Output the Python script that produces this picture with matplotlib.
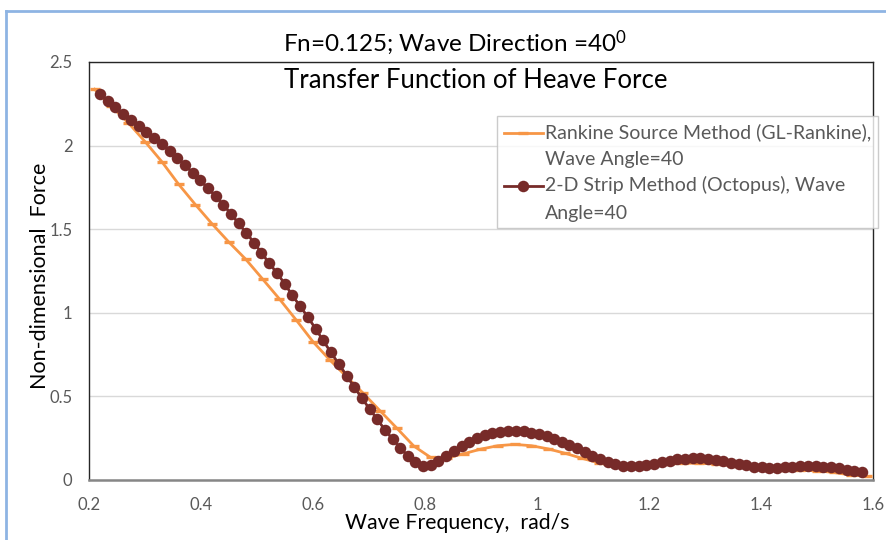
import matplotlib
matplotlib.use("Agg")
import matplotlib.pyplot as plt
from matplotlib.lines import Line2D
from matplotlib.legend_handler import HandlerLine2D

# ---------------- data ----------------
freq_rankine = [0.21, 0.24, 0.27, 0.30, 0.33, 0.36, 0.39, 0.42, 0.45, 0.48,
                0.51, 0.54, 0.57, 0.60, 0.63, 0.66, 0.69, 0.72, 0.75, 0.78,
                0.81, 0.84, 0.87, 0.90, 0.93, 0.96, 0.99, 1.02, 1.05, 1.08,
                1.11, 1.14, 1.17, 1.20, 1.23, 1.26, 1.29, 1.32, 1.35, 1.38,
                1.41, 1.44, 1.47, 1.50, 1.53, 1.56, 1.59]
force_rankine = [2.337, 2.235, 2.137, 2.024, 1.904, 1.769, 1.647, 1.531, 1.422, 1.320,
                 1.202, 1.083, 0.957, 0.827, 0.718, 0.618, 0.518, 0.413, 0.309, 0.203,
                 0.135, 0.132, 0.158, 0.185, 0.205, 0.213, 0.205, 0.186, 0.160, 0.130,
                 0.103, 0.085, 0.080, 0.085, 0.093, 0.100, 0.100, 0.095, 0.085, 0.072,
                 0.062, 0.058, 0.058, 0.055, 0.045, 0.030, 0.022]

freq_octopus = [0.220, 0.234, 0.247, 0.261, 0.275, 0.289, 0.302, 0.316, 0.330, 0.344,
                0.357, 0.371, 0.385, 0.399, 0.412, 0.426, 0.440, 0.454, 0.467, 0.481,
                0.495, 0.508, 0.522, 0.536, 0.550, 0.563, 0.577, 0.591, 0.605, 0.618,
                0.632, 0.646, 0.660, 0.673, 0.687, 0.701, 0.715, 0.728, 0.742, 0.756,
                0.769, 0.783, 0.797, 0.811, 0.824, 0.838, 0.852, 0.866, 0.879, 0.893,
                0.907, 0.920, 0.934, 0.948, 0.962, 0.976, 0.989, 1.003, 1.017, 1.030,
                1.044, 1.058, 1.072, 1.085, 1.099, 1.113, 1.127, 1.140, 1.154, 1.168,
                1.182, 1.195, 1.209, 1.223, 1.237, 1.250, 1.264, 1.278, 1.291, 1.305,
                1.319, 1.333, 1.346, 1.360, 1.374, 1.388, 1.401, 1.415, 1.429, 1.443,
                1.456, 1.470, 1.484, 1.498, 1.511, 1.525, 1.539, 1.553, 1.566, 1.580]
force_octopus = [2.309, 2.269, 2.229, 2.189, 2.151, 2.115, 2.080, 2.045, 2.008, 1.968,
                 1.928, 1.884, 1.838, 1.793, 1.745, 1.698, 1.645, 1.590, 1.535, 1.477,
                 1.418, 1.358, 1.296, 1.236, 1.172, 1.104, 1.040, 0.973, 0.903, 0.835,
                 0.763, 0.694, 0.625, 0.558, 0.491, 0.425, 0.362, 0.302, 0.245, 0.192,
                 0.145, 0.107, 0.084, 0.088, 0.112, 0.142, 0.172, 0.202, 0.230, 0.252,
                 0.270, 0.282, 0.290, 0.294, 0.295, 0.291, 0.284, 0.274, 0.261, 0.246,
                 0.229, 0.210, 0.190, 0.168, 0.146, 0.126, 0.108, 0.094, 0.085, 0.082,
                 0.084, 0.090, 0.098, 0.107, 0.116, 0.123, 0.128, 0.131, 0.130, 0.127,
                 0.121, 0.113, 0.104, 0.095, 0.087, 0.080, 0.076, 0.074, 0.074, 0.076,
                 0.079, 0.082, 0.083, 0.083, 0.080, 0.075, 0.069, 0.062, 0.054, 0.047]

x_ticks = [0.2, 0.4, 0.6, 0.8, 1.0, 1.2, 1.4, 1.6]
x_tick_labels = ["0.2", "0.4", "0.6", "0.8", "1", "1.2", "1.4", "1.6"]
y_ticks = [0, 0.5, 1.0, 1.5, 2.0, 2.5]
y_tick_labels = ["0", "0.5", "1", "1.5", "2", "2.5"]

label_rankine = "Rankine Source Method (GL-Rankine),\nWave Angle=40"
label_octopus = "2-D Strip Method (Octopus), Wave\nAngle=40"
title_top = r"Fn=0.125; Wave Direction =40$^{0}$"
title_inner = "Transfer Function of Heave Force"
x_label = "Wave Frequency,  rad/s"
y_label = "Non-dimensional  Force"

# ---------------- style ----------------
plt.rcParams['font.family'] = ['Lato', 'DejaVu Sans']
plt.rcParams['mathtext.fontset'] = 'custom'
plt.rcParams['mathtext.rm'] = 'Lato'
plt.rcParams['mathtext.it'] = 'Lato'

ORANGE = "#F79646"
DARKRED = "#772B29"
GREY_TXT = "#595959"

W, H = 886, 540
fig = plt.figure(figsize=(W / 100, H / 100), dpi=100)

def fx(px):
    return px / W

def fy(py):
    return 1 - py / H

ax_l, ax_r, ax_t, ax_b = 89, 873, 62, 480
ax = fig.add_axes([fx(ax_l), fy(ax_b), fx(ax_r - ax_l), (ax_b - ax_t) / H])

ax.plot(freq_rankine, force_rankine, color=ORANGE, lw=2.0, marker="_",
        markersize=7.5, markeredgewidth=2.4, zorder=3, label=label_rankine)
ax.plot(freq_octopus, force_octopus, color=DARKRED, lw=2.0, marker="o",
        markersize=8.3, markeredgewidth=0, zorder=4, label=label_octopus)

ax.set_xlim(0.2, 1.6)
ax.set_ylim(0, 2.5)
ax.set_xticks(x_ticks)
ax.set_xticklabels(x_tick_labels)
ax.set_yticks(y_ticks)
ax.set_yticklabels(y_tick_labels)
ax.tick_params(axis="both", length=0, labelsize=12, labelcolor=GREY_TXT)
ax.tick_params(axis="x", pad=12)
ax.tick_params(axis="y", pad=12)
ax.grid(axis="y", color="#D9D9D9", lw=1.0)
ax.set_axisbelow(True)
for s in ["left", "top", "right"]:
    ax.spines[s].set_color("#262626")
    ax.spines[s].set_linewidth(1.0)
ax.spines["bottom"].set_color("#868686")
ax.spines["bottom"].set_linewidth(1.8)

# titles and axis labels
fig.text(fx(455), fy(43), title_top, ha="center", va="center", fontsize=17.5, color="black")
fig.text(fx(476), fy(80), title_inner, ha="center", va="center", fontsize=18.5, color="black")
fig.text(fx(457), fy(523), x_label, ha="center", va="center", fontsize=15.3, color="black")
fig.text(fx(40), fy(276), y_label, ha="center", va="center", rotation=90, fontsize=15.5, color="black")


class TopAlignedLine(HandlerLine2D):
    """Place the legend handle on the first line of a two-line label."""
    def __init__(self, shift_pt, **kw):
        super().__init__(**kw)
        self.shift_pt = shift_pt

    def create_artists(self, legend, orig_handle, xdescent, ydescent, width, height, fontsize, trans):
        return super().create_artists(legend, orig_handle, xdescent, ydescent - 2 * self.shift_pt,
                                      width, height, fontsize, trans)


# legend
h_r, h_o = ax.get_lines()[0], ax.get_lines()[1]
leg = ax.legend(loc="upper left", bbox_to_anchor=((497 - ax_l) / (ax_r - ax_l), (ax_b - 116) / (ax_b - ax_t)),
                frameon=True, fancybox=False, fontsize=14, handlelength=2.0, handletextpad=0.1,
                borderpad=0.35, labelspacing=0.4, borderaxespad=0,
                handler_map={h_r: TopAlignedLine(9), h_o: TopAlignedLine(9)})
leg.get_frame().set_edgecolor("#BFBFBF")
leg.get_frame().set_linewidth(1.0)
for t in leg.get_texts():
    t.set_color(GREY_TXT)
    t.set_linespacing(1.75)

# figure border (light blue)
fig.add_artist(Line2D([fx(6), fx(6)], [fy(11), 0], color="#8EB4E3", lw=2.0))
fig.add_artist(Line2D([fx(6), 1], [fy(11), fy(11)], color="#8EB4E3", lw=2.0))

fig.savefig("out.png", dpi=100, facecolor="white")
